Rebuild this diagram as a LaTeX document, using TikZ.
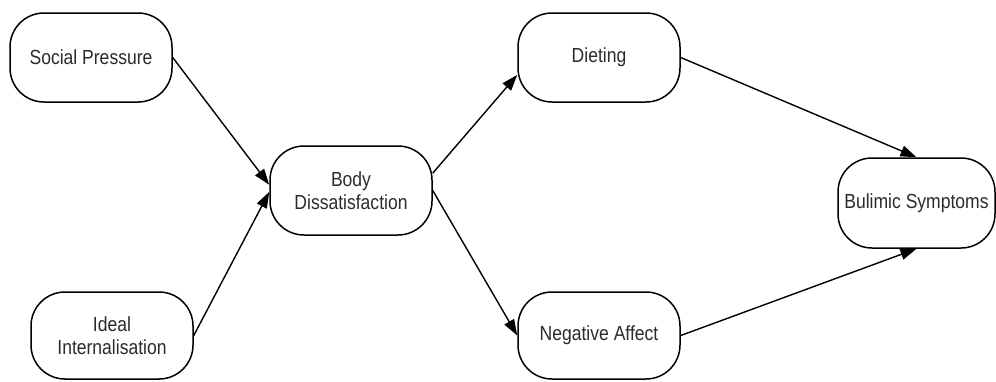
\documentclass[tikz,border=0pt]{standalone}
\usepackage{fontspec}
\setmainfont{Liberation Sans}
\newfontfamily\labelfont[FakeStretch=0.86]{Liberation Sans}
\usetikzlibrary{arrows.meta}
\definecolor{inkgray}{HTML}{2B2B2B}
\tikzset{
  stadium/.style={draw=black, line width=1.5pt, rectangle, rounded corners=34pt,
    minimum width=162pt, minimum height=89pt, align=center, inner sep=2pt,
    text=inkgray, font=\labelfont\fontsize{20.4pt}{22.7pt}\selectfont},
  link/.style={draw=black, line width=1.4pt, -{Triangle[length=16pt, width=11pt]}}
}
\begin{document}
\begin{tikzpicture}[x=1pt, y=-1pt]
  \useasboundingbox (0,0) rectangle (996,381);
  % factors
  \node[stadium] (sp) at (91,57.5) {Social Pressure};
  \node[stadium, minimum height=87pt] (ii) at (112,335.5) {Ideal\\Internalisation};
  \node[stadium] (bd) at (351,190.5) {Body\\Dissatisfaction};
  \node[stadium] (di) at (599,57.5) {Dieting};
  \node[stadium, minimum height=87pt] (na) at (599,335.5) {Negative Affect};
  \node[stadium, minimum width=157pt, minimum height=90pt] (bs) at (916.5,203) {Bulimic Symptoms};
  % paths
  \draw[link] (sp.east) -- (bd.176);
  \draw[link] (ii.east) -- (bd.181);
  \draw[link] (bd.12.5) -- (di.192.5);
  \draw[link] (bd.east) -- (na.west);
  \draw[link] (di.east) -- (bs.north);
  \draw[link] (na.east) -- (bs.south);
\end{tikzpicture}
\end{document}
